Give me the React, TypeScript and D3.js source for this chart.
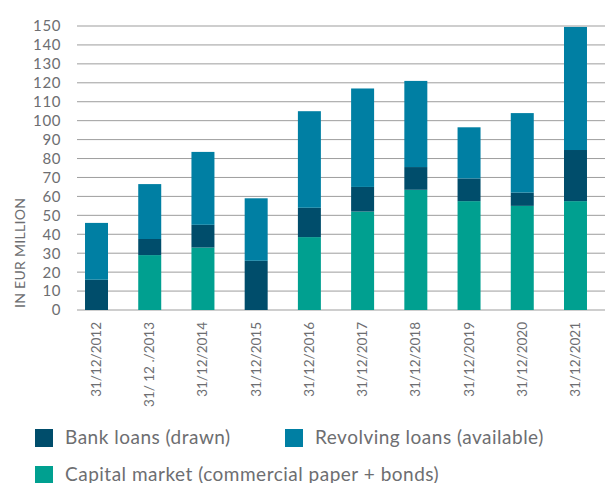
import React from "react";
import * as d3 from "d3";

const categories = [
  "31/12/2012",
  "31/ 12 ./2013",
  "31/12/2014",
  "31/12/2015",
  "31/12/2016",
  "31/12/2017",
  "31/12/2018",
  "31/12/2019",
  "31/12/2020",
  "31/12/2021",
];
const capitalMarket = [0, 29, 33, 0, 38.5, 52, 63.5, 57.5, 55, 57.5];
const bankLoans = [16, 8.5, 12, 26, 15.5, 13, 12, 12, 7, 27];
const revolvingLoans = [30, 29, 38.5, 33, 51, 52, 45.5, 27, 42, 65];
const yTicks = [0, 10, 20, 30, 40, 50, 60, 70, 80, 90, 100, 110, 120, 130, 140, 150];

const seriesKeys = ["capital", "bank", "revolving"];
const seriesColors: Record<string, string> = {
  capital: "#00a090",
  bank: "#004d6b",
  revolving: "#007fa3",
};
const legendItems = [
  { key: "bank", label: "Bank loans (drawn)" },
  { key: "revolving", label: "Revolving loans (available)" },
  { key: "capital", label: "Capital market (commercial paper + bonds)" },
];

const FONT = "Lato, 'Open Sans', sans-serif";
const TEXT = "#6d6e71";

export default function App() {
  const rows = categories.map((c, i) => ({
    cat: c,
    capital: capitalMarket[i],
    bank: bankLoans[i],
    revolving: revolvingLoans[i],
  }));
  const stack = d3.stack<any>().keys(seriesKeys)(rows);

  const x = d3
    .scaleBand<string>()
    .domain(categories)
    .range([69.9, 602.1])
    .paddingInner(0.568)
    .paddingOuter(0.284);
  const y = d3.scaleLinear().domain([0, 150]).range([310, 26]);

  const legendPos = [
    { x: 35, y: 429 },
    { x: 285, y: 429 },
    { x: 35, y: 466 },
  ];

  return (
    <svg
      width={605}
      height={483}
      style={{ position: "absolute", left: 0, top: 0, background: "#fff" }}
      fontFamily={FONT}
    >
      {yTicks.map((t) => (
        <g key={t}>
          <line x1={77} x2={605} y1={y(t)} y2={y(t)} stroke="#9d9d9d" strokeWidth={1} />
          <text
            x={61}
            y={y(t)}
            dy="0.36em"
            textAnchor="end"
            fontSize={15}
            letterSpacing={0.6}
            fill={TEXT}
          >
            {t}
          </text>
        </g>
      ))}
      <text
        transform={`translate(24.5,308) rotate(-90)`}
        textAnchor="start"
        fontSize={14}
        letterSpacing={0.3}
        fill={TEXT}
      >
        IN EUR MILLION
      </text>
      {stack.map((s) => (
        <g key={s.key} fill={seriesColors[s.key]}>
          {s.map((d, i) =>
            d[1] - d[0] > 0 ? (
              <rect
                key={i}
                x={x(categories[i])}
                width={x.bandwidth()}
                y={y(d[1])}
                height={y(d[0]) - y(d[1])}
              />
            ) : null
          )}
        </g>
      ))}
      {categories.map((c) => (
        <text
          key={c}
          transform={`translate(${(x(c) as number) + x.bandwidth() / 2 + 4.5},322) rotate(-90)`}
          textAnchor="end"
          fontSize={13.5}
          fill={TEXT}
        >
          {c}
        </text>
      ))}
      {legendItems.map((it, i) => (
        <g key={it.key} transform={`translate(${legendPos[i].x},${legendPos[i].y})`}>
          <rect width={18} height={18} fill={seriesColors[it.key]} />
          <text x={30} y={15} fontSize={19} letterSpacing={0.5} fill={TEXT}>
            {it.label}
          </text>
        </g>
      ))}
    </svg>
  );
}
